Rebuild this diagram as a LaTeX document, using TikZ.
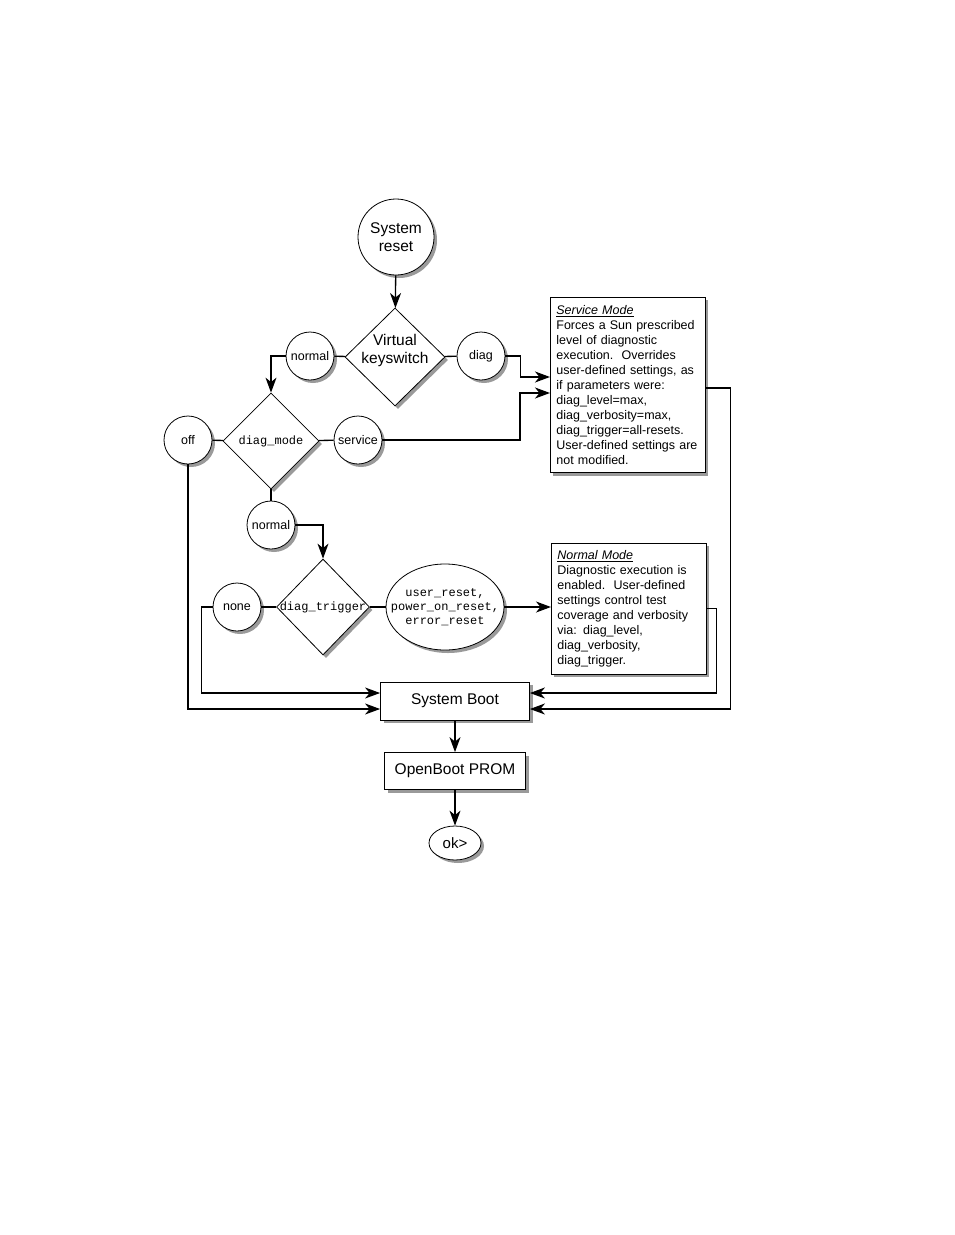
\documentclass[tikz,border=0pt]{standalone}
\usepackage{fontspec}
\setmainfont{Liberation Sans}
\setmonofont{Liberation Mono}
\usetikzlibrary{arrows.meta,shadows,shapes.geometric,positioning}
\definecolor{shade}{HTML}{9A9A9A}
\tikzset{
  >={Stealth[length=15pt,width=11pt,inset=4.5pt]},
  flow/.style={->,line width=1.3pt,draw=black},
  link/.style={line width=1.3pt,draw=black},
  base/.style={draw=black,line width=.8pt,fill=white,align=center,inner sep=1pt,
               drop shadow={shadow xshift=3pt,shadow yshift=-3pt,fill=shade,opacity=1}},
  start/.style={base,circle,minimum size=76pt,font=\fontsize{15.5}{18}\selectfont},
  choice/.style={base,circle,minimum size=48pt,inner sep=0pt,font=\fontsize{12.5}{15}\selectfont},
  decide/.style={base,diamond,inner sep=-2pt,minimum width=100pt,minimum height=98pt},
  stepbox/.style={base,rectangle,inner sep=0pt,font=\fontsize{15.5}{18}\selectfont},
  notebox/.style={base,rectangle,anchor=north west,align=left,text width=143pt,
                  inner xsep=6pt,inner ysep=8pt,font=\fontsize{12.5}{15}\selectfont},
  code/.style={font=\ttfamily\fontsize{12}{14}\selectfont}
}

\begin{document}
\begin{tikzpicture}[x=1pt,y=-1pt]
  \useasboundingbox (0,0) rectangle (954,1235);
  \node[start] (reset) at (396,237) {System\\reset};
  \node[decide,label={[yshift=7pt,align=center,font=\fontsize{15.5}{18}\selectfont]center:{Virtual\\keyswitch}}] (keysw) at (395,357) {};
  \node[choice] (kswnormal) at (310,356) {normal};
  \node[choice] (kswdiag) at (481,356) {diag};
  \node[decide,code,minimum width=96pt,minimum height=96pt] (dmode) at (271,441) {diag\_mode};
  \node[choice] (off) at (188,440) {off};
  \node[choice] (service) at (358,440) {service};
  \node[notebox] (svcbox) at (550,297) {\underline{\textit{Service Mode}}\\
    Forces a Sun prescribed\\level of diagnostic\\execution.\ \ Overrides\\
    user-defined settings, as\\if parameters were:\\diag\_level=max,\\
    diag\_verbosity=max,\\diag\_trigger=all-resets.\\User-defined settings are\\
    not modified.};
  \node[choice] (dmnormal) at (271,525) {normal};
  \node[decide,code,minimum width=93pt,minimum height=96pt,inner xsep=-6pt] (dtrig) at (323,607) {diag\_trigger};
  \node[choice] (none) at (237,607) {none};
  \node[base,ellipse,code,inner xsep=-14pt,inner ysep=0pt,minimum width=118pt,minimum height=86pt] (resets) at (445,607)
    {user\_reset,\\power\_on\_reset,\\error\_reset};
  \node[notebox,inner ysep=7pt] (normbox) at (551,543) {\underline{\textit{Normal Mode}}\\
    Diagnostic execution is\\enabled.\ \ User-defined\\settings control test\\
    coverage and verbosity\\via: diag\_level,\\diag\_verbosity,\\diag\_trigger.};
  \node[stepbox,minimum width=149pt,minimum height=38pt] (boot) at (455,701) {System Boot};
  \node[stepbox,minimum width=141pt,minimum height=37pt] (prom) at (455,771) {OpenBoot PROM};
  \node[base,ellipse,inner sep=0pt,minimum width=52pt,minimum height=34pt,font=\fontsize{15}{18}\selectfont] (ok) at (455,843) {ok>};
  \draw[flow] (reset) -- (keysw);
  \draw[link] (keysw) -- (kswnormal); \draw[link] (keysw) -- (kswdiag);
  \draw[flow] (kswnormal.west) -| (dmode.north);
  \draw[flow] (kswdiag.east) -- ++(15,0) |- ([yshift=8pt]svcbox.west);
  \draw[link] (dmode) -- (off); \draw[link] (dmode) -- (service);
  \draw[flow] (service.east) -| ([xshift=-30pt,yshift=-8pt]svcbox.west) -- ([yshift=-8pt]svcbox.west);
  \draw[link] (dmode) -- (dmnormal);
  \draw[flow] (dmnormal.east) -| (dtrig.north);
  \draw[link] (dtrig) -- (none); \draw[link] (dtrig) -- (resets);
  \draw[flow] (resets.east) -- (resets.east -| normbox.west);
  \draw[flow] (off.south) |- ([yshift=-8pt]boot.west);
  \draw[flow] (none.west) -- ++(-11,0) |- ([yshift=8pt]boot.west);
  \draw[flow] (normbox.east) -- ++(10,0) |- ([yshift=8pt]boot.east);
  \draw[flow] ([yshift=-3pt]svcbox.east) -- ++(25,0) |- ([yshift=-8pt]boot.east);
  \draw[flow] (boot) -- (prom); \draw[flow] (prom) -- (ok);
\end{tikzpicture}
\end{document}
